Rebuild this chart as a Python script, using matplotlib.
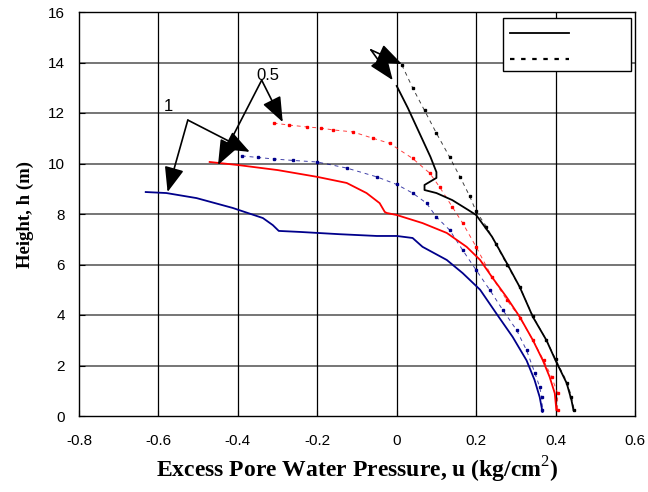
import matplotlib
matplotlib.use("Agg")
import matplotlib.pyplot as plt
from matplotlib.patches import Rectangle

plt.rcParams["mathtext.fontset"] = "custom"
plt.rcParams["mathtext.rm"] = "Liberation Serif"
plt.rcParams["mathtext.bf"] = "Liberation Serif:bold"

# ---- data ----
black_solid_x = [0.0, 0.028, 0.085, 0.10, 0.10, 0.07, 0.07, 0.10, 0.14, 0.18, 0.20, 0.24, 0.277, 0.31, 0.343, 0.377, 0.40, 0.428, 0.44, 0.445]
black_solid_y = [13.07, 12.2, 10.26, 9.66, 9.43, 9.15, 8.95, 8.83, 8.55, 8.16, 7.96, 7.1, 6.06, 5.1, 3.92, 3.0, 2.2, 1.3, 0.63, 0.24]

black_dot_x = [0.013, 0.04, 0.07, 0.10, 0.133, 0.16, 0.184, 0.20, 0.226, 0.25, 0.277, 0.31, 0.343, 0.377, 0.40, 0.43, 0.44, 0.447]
black_dot_y = [13.9, 13.0, 12.1, 11.2, 10.26, 9.45, 8.7, 8.1, 7.5, 6.8, 6.0, 5.1, 3.95, 3.0, 2.25, 1.3, 0.75, 0.24]

red_solid_x = [-0.471, -0.40, -0.30, -0.20, -0.126, -0.076, -0.043, -0.03, -0.025, 0.0, 0.065, 0.126, 0.176, 0.21, 0.24, 0.277, 0.31, 0.343, 0.368, 0.385, 0.398, 0.402]
red_solid_y = [10.06, 9.94, 9.74, 9.47, 9.23, 8.83, 8.43, 8.08, 8.04, 7.96, 7.64, 7.25, 6.7, 6.18, 5.5, 4.7, 3.92, 3.0, 2.2, 1.55, 0.9, 0.24]

red_dot_x = [-0.31, -0.27, -0.227, -0.19, -0.16, -0.11, -0.06, -0.018, 0.04, 0.083, 0.108, 0.14, 0.166, 0.20, 0.24, 0.277, 0.31, 0.343, 0.37, 0.39, 0.405, 0.405]
red_dot_y = [11.6, 11.52, 11.45, 11.4, 11.33, 11.25, 11.0, 10.8, 10.2, 9.62, 9.07, 8.28, 7.64, 6.7, 5.5, 4.6, 3.9, 3.0, 2.2, 1.55, 0.9, 0.24]

blue_solid_x = [-0.632, -0.58, -0.504, -0.413, -0.337, -0.312, -0.297, -0.244, -0.144, -0.05, 0.0, 0.04, 0.065, 0.126, 0.166, 0.21, 0.25, 0.292, 0.327, 0.347, 0.36, 0.367]
blue_solid_y = [8.87, 8.83, 8.63, 8.24, 7.84, 7.56, 7.33, 7.29, 7.2, 7.13, 7.13, 7.05, 6.7, 6.18, 5.66, 5.0, 4.08, 3.13, 2.2, 1.43, 0.75, 0.16]

blue_dot_x = [-0.39, -0.35, -0.31, -0.26, -0.2, -0.126, -0.05, 0.0, 0.04, 0.075, 0.1, 0.133, 0.166, 0.2, 0.234, 0.267, 0.302, 0.327, 0.348, 0.36, 0.365, 0.367]
blue_dot_y = [10.3, 10.24, 10.18, 10.12, 10.06, 9.82, 9.47, 9.17, 8.83, 8.43, 7.88, 7.37, 6.57, 5.78, 5.0, 4.2, 3.4, 2.6, 1.7, 1.15, 0.75, 0.24]

x_ticks = [-0.8, -0.6, -0.4, -0.2, 0, 0.2, 0.4, 0.6]
x_tick_labels = ["-0.8", "-0.6", "-0.4", "-0.2", "0", "0.2", "0.4", "0.6"]
y_ticks = [0, 2, 4, 6, 8, 10, 12, 14, 16]

# annotation anchors (data coords)
ann_1_text = (-0.574, 12.24)
ann_1_from = (-0.526, 11.72)
ann_1_to = [(-0.577, 8.87), (-0.37, 10.46)]
ann_05_text = (-0.325, 13.5)
ann_05_from = (-0.34, 13.3)
ann_05_to = [(-0.45, 9.94), (-0.287, 11.64)]
ann_top_from = (-0.065, 14.5)
ann_top_to = [(0.013, 13.94), (-0.01, 13.3)]

# ---- figure ----
fig = plt.figure(figsize=(6.48, 4.92), dpi=100)
ax = fig.add_axes([79/648, 1-416/492, (635-79)/648, (416-12)/492])

ax.set_xlim(-0.8, 0.6)
ax.set_ylim(0, 16)
ax.set_xticks(x_ticks)
ax.set_xticklabels(x_tick_labels)
ax.set_yticks(y_ticks)

for y in y_ticks[1:-1]:
    ax.axhline(y, color="#6a6a6a", lw=1.3, zorder=0)
for x in x_ticks[1:-1]:
    ax.axvline(x, color="black", lw=0.9, zorder=0)

def dotted(xs, ys, color):
    ax.plot(xs, ys, color=color, lw=0.7, linestyle=(0, (4, 4)), alpha=0.75)
    ax.plot(xs, ys, color=color, lw=0, marker="s", markersize=2.0)

ax.plot(blue_solid_x, blue_solid_y, color="#00008b", lw=1.3)
dotted(blue_dot_x, blue_dot_y, "#00008b")
ax.plot(red_solid_x, red_solid_y, color="red", lw=1.3)
dotted(red_dot_x, red_dot_y, "red")
ax.plot(black_solid_x, black_solid_y, color="black", lw=1.3)
dotted(black_dot_x, black_dot_y, "black")

arrowprops = dict(arrowstyle="-|>,head_length=1.4,head_width=0.55", mutation_scale=11,
                  color="black", lw=1.2, shrinkA=0, shrinkB=0)
for tgt in ann_1_to:
    ax.annotate("", xy=tgt, xytext=ann_1_from, arrowprops=arrowprops)
for tgt in ann_05_to:
    ax.annotate("", xy=tgt, xytext=ann_05_from, arrowprops=arrowprops)
for tgt in ann_top_to:
    ax.annotate("", xy=tgt, xytext=ann_top_from, arrowprops=arrowprops)
ax.text(*ann_1_text, "1", fontsize=12, family="Liberation Sans", ha="center", va="center")
ax.text(*ann_05_text, "0.5", fontsize=12, family="Liberation Sans", ha="center", va="center")

# legend box (no labels)
ax.add_patch(Rectangle(((503-79)/556, (416-71)/404), 128/556, 53/404,
                       transform=ax.transAxes, facecolor="white", edgecolor="black", lw=1.0, zorder=5))
ax.plot([(510-79)/556, (569-79)/556], [(416-33)/404]*2, transform=ax.transAxes, color="black", lw=1.3, zorder=6)
ax.plot([(510-79)/556, (569-79)/556], [(416-59)/404]*2, transform=ax.transAxes, color="black", lw=1.6,
        linestyle=(0, (2, 3)), zorder=6)

for sp in ax.spines.values():
    sp.set_color("black")
    sp.set_linewidth(1.0)
ax.tick_params(direction="in", length=4, width=0.8, labelsize=11, pad=10)
for lab in ax.get_xticklabels() + ax.get_yticklabels():
    lab.set_family("Liberation Sans")
ax.tick_params(axis="x", pad=13)

ax.set_xlabel("Excess Pore Water Pressure, u (kg/cm$^\\mathrm{2}$)", fontsize=17, fontweight="bold",
              family="Liberation Serif", labelpad=5)
ax.set_ylabel("Height, h (m)", fontsize=13.5, fontweight="bold", family="Liberation Serif", labelpad=10)

fig.savefig("out.png", dpi=100)
